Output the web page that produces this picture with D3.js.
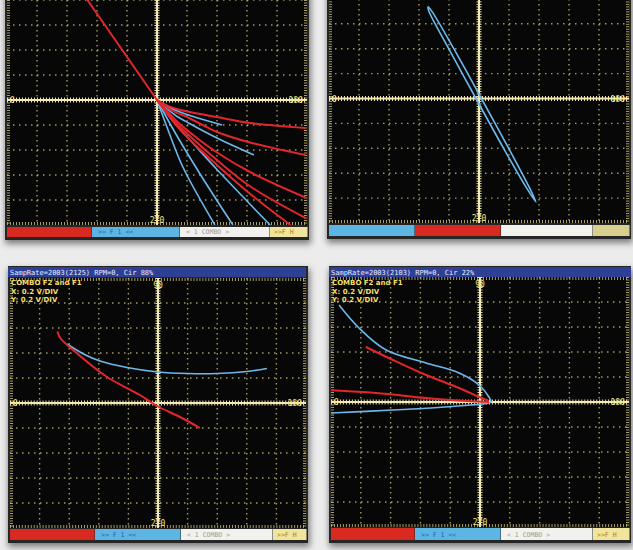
<!DOCTYPE html>
<html>
<head>
<meta charset="utf-8">
<script src="https://cdn.jsdelivr.net/npm/d3@7"></script>
<style>
  body { margin: 0; background: #ececec; }
  svg { display: block; }
</style>
</head>
<body>
<svg id="scopes" width="633" height="550"></svg>
<script>
// grid divisions, minor tick steps, axis labels
var gridDivs = [-4, -3, -2, -1, 1, 2, 3, 4]
var minorTicks = d3.range(-50, 51).map(d => d / 10)
var axisLabels = ["90", "270", "0", "180"]

// panel 1 (top left) traces, x/y in divisions
var p1Red = [
    [[-2.9, 5.0], [-1.45, 2.5], [0, 0]],
    [[0, 0], [0.5, -0.3], [1.1, -0.48], [2.0, -0.68], [3.1, -0.92], [4.95, -1.12]],
    [[0, 0], [0.5, -0.42], [1.1, -0.74], [2.0, -1.28], [3.1, -1.7], [4.95, -2.2]],
    [[0, 0], [0.6, -0.78], [1.1, -1.3], [2.0, -2.1], [3.1, -2.88], [4.95, -3.9]],
    [[0, 0], [0.6, -0.88], [1.1, -1.45], [2.0, -2.4], [3.1, -3.45], [4.95, -4.72]],
    [[0, 0], [0.6, -0.95], [1.1, -1.6], [2.0, -2.6], [3.1, -3.75], [4.45, -5.0]]
]
var p1Blue = [
    [[0, 0], [0.5, -0.35], [1.1, -0.62], [2.17, -1.0]],
    [[0, 0], [0.6, -0.6], [1.1, -0.95], [2.0, -1.52], [3.23, -2.2]],
    [[0, 0], [0.6, -0.95], [1.1, -1.6], [2.0, -2.78], [3.77, -5.0]],
    [[0, 0], [0.6, -1.3], [1.43, -2.95], [2.53, -5.0]],
    [[0, 0], [0.4, -1.3], [0.87, -2.7], [1.93, -5.0]]
]

// panel 2 (top right) narrow loop
var p2Blue = [
    [-1.7, 3.68], [-1.57, 3.5], [-0.84, 2.0], [0.08, 0.0], [0.99, -2.0], [1.69, -3.6], [1.9, -4.16],
    [1.59, -3.6], [0.82, -2.0], [-0.1, 0.0], [-1.01, 2.0], [-1.67, 3.5]
]

// panel 3 (bottom left)
var p3Red = [[[-3.4, 2.86], [-3.3, 2.6], [-2.87, 2.12], [-1.72, 1.04], [-0.61, 0.32], [-0.03, -0.12], [0.74, -0.56], [1.42, -1.0]]]
var p3Blue = [[[-3.07, 2.36], [-2.5, 1.95], [-1.96, 1.68], [-1.05, 1.42], [0, 1.24], [1.0, 1.18], [2.0, 1.18], [3.0, 1.26], [3.68, 1.38]]]

// panel 4 (bottom right)
var p4Red = [
    [[-3.83, 2.2], [-2.92, 1.68], [-1.81, 1.08], [-0.7, 0.56], [-0.03, 0.2], [0.3, 0.04]],
    [[-5.2, 0.48], [-3.49, 0.36], [-1.81, 0.16], [-0.47, 0.04], [0.3, 0.0]]
]
var p4Blue = [[[-4.73, 3.88], [-4.06, 2.96], [-3.15, 2.08], [-1.81, 1.56], [-0.7, 1.16], [-0.03, 0.68], [0.3, 0.2],
    [0.37, 0], [0.2, -0.06], [-0.3, -0.12], [-1.64, -0.24], [-2.92, -0.32], [-5.0, -0.44]]]

var infoLines = ["COMBO F2 and F1", "X: 0.2 V/DIV", "Y: 0.2 V/DIV"]
var statusText = ["", ">> F  1 <<", "<  1   COMBO  >", ">>F  H"]

var colors = {
    red: "#e3262b",
    blue: "#6cb8ec",
    barRed: "#d82a20",
    barBlue: "#5db5e3",
    barWhite: "#f1f1ed",
    barYellow: "#f1e49c",
    barKhaki: "#d9cf8c"
}

var panels = [
    {left: 7, right: 307, top: -25, bottom: 225, barY: 227, barH: 10, cuts: [92, 180, 270],
     bars: ["barRed", "barBlue", "barWhite", "barYellow"], red: p1Red, blue: p1Blue, info: false, status: true},
    {left: 329, right: 629, top: -26, bottom: 223, barY: 225, barH: 11, cuts: [415, 501, 593],
     bars: ["barBlue", "barRed", "barWhite", "barKhaki"], red: [], blue: [p2Blue], closed: true, info: false, status: false},
    {left: 10, right: 306, top: 278, bottom: 528, barY: 529, barH: 11, cuts: [95, 181, 273],
     bars: ["barRed", "barBlue", "barWhite", "barYellow"], red: p3Red, blue: p3Blue, info: true, status: true,
     title: "SampRate=2003(2125) RPM=0, Cir 88%", titleX: 8, titleW: 298},
    {left: 331, right: 629, top: 277, bottom: 527, barY: 528, barH: 12, cuts: [415, 501, 593],
     bars: ["barRed", "barBlue", "barWhite", "barYellow"], red: p4Red, blue: p4Blue, info: true, status: true,
     title: "SampRate=2003(2103) RPM=0, Cir 22%", titleX: 329, titleW: 302}
]

var svg = d3.select("#scopes")
var defs = svg.append("defs")
defs.append("filter").attr("id", "shadow").attr("x", "-10%").attr("y", "-10%").attr("width", "120%").attr("height", "125%")
    .append("feGaussianBlur").attr("stdDeviation", 3)

svg.append("rect").attr("width", 633).attr("height", 550).attr("fill", "#ececec")

panels.forEach(function(p, i) {
    var frameTop = p.title ? 266 : p.top - 4
    var barEnd = p.barY + p.barH

    // drop shadow + dark frame
    svg.append("rect")
       .attr("x", p.left - 2).attr("y", frameTop + 3)
       .attr("width", p.right - p.left + 6).attr("height", barEnd - frameTop + 4)
       .attr("fill", "#5a5a5a").attr("opacity", 0.75)
       .attr("filter", "url(#shadow)")
    svg.append("rect")
       .attr("x", p.left - 2).attr("y", frameTop)
       .attr("width", p.right - p.left + 4).attr("height", barEnd - frameTop + 3)
       .attr("fill", "#262626")

    var xScale = d3.scaleLinear().domain([-5, 5]).range([p.left, p.right])
    var yScale = d3.scaleLinear().domain([-5, 5]).range([p.bottom, p.top])

    var g = svg.append("g")
    var clipId = "clip" + i
    defs.append("clipPath").attr("id", clipId)
        .append("rect").attr("x", p.left).attr("y", p.top)
        .attr("width", p.right - p.left).attr("height", p.bottom - p.top)

    g.append("rect")
     .attr("x", p.left).attr("y", p.top)
     .attr("width", p.right - p.left).attr("height", p.bottom - p.top)
     .attr("fill", "#070707")

    var inner = g.append("g").attr("clip-path", "url(#" + clipId + ")")

    // dotted grid
    inner.append("g").selectAll("line").data(gridDivs).enter().append("line")
         .attr("x1", d => xScale(d)).attr("x2", d => xScale(d))
         .attr("y1", p.top).attr("y2", p.bottom)
         .attr("stroke", "#d6cb7e").attr("stroke-width", 1.4)
         .attr("stroke-dasharray", "1.5,3.5").attr("opacity", 0.75)
    inner.append("g").selectAll("line").data(gridDivs).enter().append("line")
         .attr("y1", d => yScale(d)).attr("y2", d => yScale(d))
         .attr("x1", p.left).attr("x2", p.right)
         .attr("stroke", "#d6cb7e").attr("stroke-width", 1.4)
         .attr("stroke-dasharray", "1.5,4.5").attr("opacity", 0.75)

    // edge ticks
    var edge = [
        d3.axisBottom(xScale).tickValues(minorTicks).tickSize(3).tickFormat(""),
        d3.axisTop(xScale).tickValues(minorTicks).tickSize(3).tickFormat(""),
        d3.axisRight(yScale).tickValues(minorTicks).tickSize(3).tickFormat(""),
        d3.axisLeft(yScale).tickValues(minorTicks).tickSize(3).tickFormat("")
    ]
    var edgePos = ["translate(0," + p.top + ")", "translate(0," + p.bottom + ")",
                   "translate(" + p.left + ",0)", "translate(" + p.right + ",0)"]
    edge.forEach(function(ax, k) {
        inner.append("g").attr("transform", edgePos[k]).call(ax)
             .call(a => a.select(".domain").remove())
             .call(a => a.selectAll(".tick line").attr("stroke", "#cfc47c").attr("opacity", 0.8))
    })

    // centre axes with cross ticks
    inner.append("line").attr("x1", xScale(0)).attr("x2", xScale(0))
         .attr("y1", p.top).attr("y2", p.bottom)
         .attr("stroke", "#f4ecbc").attr("stroke-width", 2)
    inner.append("line").attr("y1", yScale(0)).attr("y2", yScale(0))
         .attr("x1", p.left).attr("x2", p.right)
         .attr("stroke", "#f4ecbc").attr("stroke-width", 2)
    inner.append("g").attr("transform", "translate(0," + yScale(0) + ")")
         .call(d3.axisBottom(xScale).tickValues(minorTicks).tickSize(5).tickFormat(""))
         .call(a => a.select(".domain").remove())
         .call(a => a.selectAll(".tick line").attr("y1", -2.5).attr("y2", 2.5).attr("stroke", "#efe6a8"))
    inner.append("g").attr("transform", "translate(" + xScale(0) + ",0)")
         .call(d3.axisLeft(yScale).tickValues(minorTicks).tickSize(5).tickFormat(""))
         .call(a => a.select(".domain").remove())
         .call(a => a.selectAll(".tick line").attr("x1", -2.5).attr("x2", 2.5).attr("stroke", "#efe6a8"))

    // traces
    var line = d3.line().x(d => xScale(d[0])).y(d => yScale(d[1]))
                 .curve(p.closed ? d3.curveCatmullRomClosed : d3.curveCatmullRom)
    inner.append("g").selectAll("path").data(p.blue).enter().append("path")
         .attr("d", line).attr("fill", "none")
         .attr("stroke", colors.blue).attr("stroke-width", 1.6)
    inner.append("g").selectAll("path").data(p.red).enter().append("path")
         .attr("d", line).attr("fill", "none")
         .attr("stroke", colors.red).attr("stroke-width", 2)

    // axis labels
    var labelPos = [
        [xScale(0), p.top + 10, "middle"],
        [xScale(0), p.bottom - 2, "middle"],
        [p.left + 3, yScale(0) + 3, "start"],
        [p.right - 4, yScale(0) + 3, "end"]
    ]
    g.append("g").selectAll("text").data(axisLabels).enter().append("text")
     .filter((d, k) => !(k == 0 && !p.info))
     .attr("x", (d, k) => labelPos[axisLabels.indexOf(d)][0])
     .attr("y", (d, k) => labelPos[axisLabels.indexOf(d)][1])
     .attr("text-anchor", d => labelPos[axisLabels.indexOf(d)][2])
     .attr("font-family", "DejaVu Sans Mono, monospace")
     .attr("font-size", 8).attr("fill", "#f3e58a")
     .text(d => d)

    // info text
    if (p.info) {
        g.append("g").selectAll("text").data(infoLines).enter().append("text")
         .attr("x", p.left + 1).attr("y", (d, k) => 285 + k * 8.5)
         .attr("font-family", "DejaVu Sans, sans-serif").attr("font-weight", "bold")
         .attr("font-size", 7).attr("fill", "#f3df6a")
         .text(d => d)
    }

    // title bar
    if (p.title) {
        svg.append("rect").attr("x", p.titleX).attr("y", 267)
           .attr("width", p.titleW).attr("height", 10).attr("fill", "#2e3f96")
        svg.append("text").attr("x", p.titleX + 2).attr("y", 275)
           .attr("font-family", "DejaVu Sans Mono, monospace").attr("font-size", 7)
           .attr("fill", "#e6ecff").text(p.title)
    }

    // status bar
    var edges = [p.left].concat(p.cuts).concat([p.right + 1])
    var segs = p.bars.map((c, k) => ({c: c, x0: edges[k], x1: edges[k + 1], t: p.status ? statusText[k] : ""}))
    var bar = svg.append("g")
    bar.selectAll("rect").data(segs).enter().append("rect")
       .attr("x", d => d.x0).attr("y", p.barY)
       .attr("width", d => d.x1 - d.x0 - 0.5).attr("height", p.barH)
       .attr("fill", d => colors[d.c])
    bar.selectAll("text").data(segs).enter().append("text")
       .attr("x", (d, k) => k == 3 ? d.x0 + 4 : d.x0 + 6)
       .attr("y", p.barY + p.barH - 3)
       .attr("font-family", "DejaVu Sans Mono, monospace").attr("font-size", 6.5)
       .attr("fill", (d, k) => k == 1 ? "#2a5ea8" : k == 2 ? "#9a9a90" : "#b07a10")
       .text(d => d.t)
})
</script>
</body>
</html>
